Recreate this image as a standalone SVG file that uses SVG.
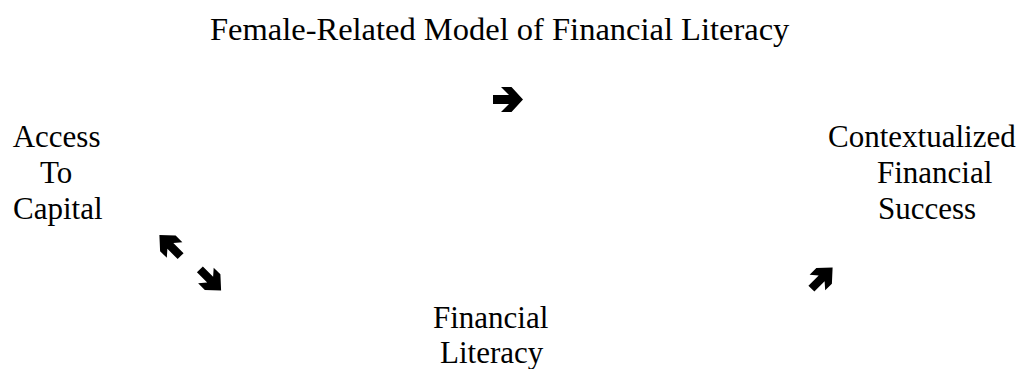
<svg xmlns="http://www.w3.org/2000/svg" width="1026" height="369" viewBox="0 0 1026 369">
<style>
text{font-family:"Liberation Serif","Times New Roman",serif;font-size:31px;fill:#000}
.title{font-size:32.5px}
.arr{fill:#000}
</style>
<defs>
<polygon id="bigArrow" points="-15,-4.5 1,-4.5 -7,-12.5 3.5,-12.5 15,0 3.5,12.5 -7,12.5 1,4.5 -15,4.5"/>
<polygon id="diagArrow" points="-15,-4.2 -0.5,-4.2 -6.5,-11 3,-11 15,0 3,11 -6.5,11 -0.5,4.2 -15,4.2"/>
</defs>
<rect width="1026" height="369" fill="#fff"/>
<g id="title"><text class="title" x="210" y="40">Female-Related Model of Financial Literacy</text></g>
<g id="access-to-capital">
<text x="12.7" y="147">Access</text>
<text x="40" y="183">To</text>
<text x="13" y="219">Capital</text>
</g>
<g id="contextualized-financial-success">
<text x="828" y="147">Contextualized</text>
<text x="877" y="183">Financial</text>
<text x="878" y="219">Success</text>
</g>
<g id="financial-literacy">
<text x="433" y="328">Financial</text>
<text x="440" y="363">Literacy</text>
</g>
<g id="connectors" class="arr">
<use href="#bigArrow" transform="translate(508,99.5)"/>
<use href="#diagArrow" transform="translate(170,245.5) rotate(-135)"/>
<use href="#diagArrow" transform="translate(210.5,280) rotate(45)"/>
<use href="#diagArrow" transform="translate(822,278) rotate(-45)"/>
</g>
</svg>
